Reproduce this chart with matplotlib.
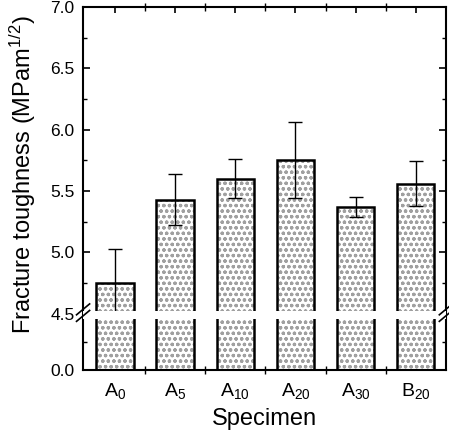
import matplotlib
matplotlib.use("Agg")
import matplotlib.pyplot as plt
import matplotlib.transforms as mtransforms
from matplotlib.patches import Rectangle
import numpy as np

plt.rcParams['font.family'] = ['Liberation Sans', 'DejaVu Sans']
plt.rcParams['mathtext.fontset'] = 'custom'
plt.rcParams['mathtext.rm'] = 'Liberation Sans'
plt.rcParams['mathtext.it'] = 'Liberation Sans:italic'
plt.rcParams['hatch.linewidth'] = 0.9

# data
specimens = ['A$_{0}$', 'A$_{5}$', 'A$_{10}$', 'A$_{20}$', 'A$_{30}$', 'B$_{20}$']
toughness = [4.75, 5.43, 5.60, 5.75, 5.37, 5.56]
errors = [0.28, 0.21, 0.16, 0.31, 0.08, 0.18]
yticks = [0.0, 4.5, 5.0, 5.5, 6.0, 6.5, 7.0]
yminor = [2.25, 4.75, 5.25, 5.75, 6.25, 6.75]

# broken axis: 0-4.5 squeezed into a short stub
BREAK = 4.5
STUB = 0.46


def fwd(v):
    v = np.asarray(v, dtype=float)
    return np.where(v <= BREAK, v * STUB / BREAK, STUB + (v - BREAK))


def inv(u):
    u = np.asarray(u, dtype=float)
    return np.where(u <= STUB, u * BREAK / STUB, u - STUB + BREAK)


fig = plt.figure(figsize=(4.49, 4.34), dpi=100)
ax = fig.add_axes([0.185, 0.1475, 0.808, 0.8365])
ax.set_yscale('function', functions=(fwd, inv))

x = np.arange(len(specimens))
# stipple fill, then black outline
ax.bar(x, toughness, width=0.62, color='white', edgecolor='#a0a0a0',
       hatch='ooo', linewidth=0, zorder=2)
ax.bar(x, toughness, width=0.62, fill=False, edgecolor='black',
       linewidth=1.8, zorder=3)
ax.errorbar(x, toughness, yerr=errors, fmt='none', ecolor='black',
            elinewidth=1.0, capsize=5, capthick=1.0, zorder=4)

ax.set_xlim(-0.53, 5.5)
ax.set_ylim(0, 7.0)

# white gap across the bars at the break
gap = 0.033
trans = mtransforms.blended_transform_factory(ax.transAxes, ax.transData)
ax.add_patch(Rectangle((0, float(inv(STUB - gap - 0.012))), 1,
                       float(inv(STUB + gap - 0.012)) - float(inv(STUB - gap - 0.012)),
                       transform=trans, facecolor='white', edgecolor='none',
                       zorder=5))

# break marks on both spines
for xs in (0.0, 1.0):
    for dy in (-0.012, 0.006):
        ax.plot([xs - 0.018, xs + 0.018], [0.146 + dy, 0.176 + dy],
                transform=ax.transAxes, color='black', lw=1.2,
                clip_on=False, zorder=6)

ax.set_yticks(yticks)
ax.set_yticklabels(['%.1f' % t for t in yticks])
ax.set_yticks(yminor, minor=True)
ax.set_xticks(x)
ax.set_xticklabels(specimens)
ax.set_xticks(x[:-1] + 0.5, minor=True)

ax.tick_params(axis='y', which='both', direction='in', left=True, right=True,
               labelsize=12.5, pad=6)
ax.tick_params(axis='y', which='major', length=5, width=1.2)
ax.tick_params(axis='y', which='minor', length=3, width=1.0)
ax.tick_params(axis='x', which='major', direction='in', bottom=False,
               top=True, length=4, width=1.2, labelsize=14, pad=8)
ax.tick_params(axis='x', which='minor', direction='inout', bottom=True,
               top=True, length=6, width=1.0)

for s in ax.spines.values():
    s.set_linewidth(1.5)

ax.set_xlabel('Specimen', fontsize=17, labelpad=5)
ax.set_ylabel('Fracture toughness (MPam$^{1/2}$)', fontsize=17)
ax.yaxis.set_label_coords(-0.125, 0.538)

fig.savefig('out.png', dpi=100)
